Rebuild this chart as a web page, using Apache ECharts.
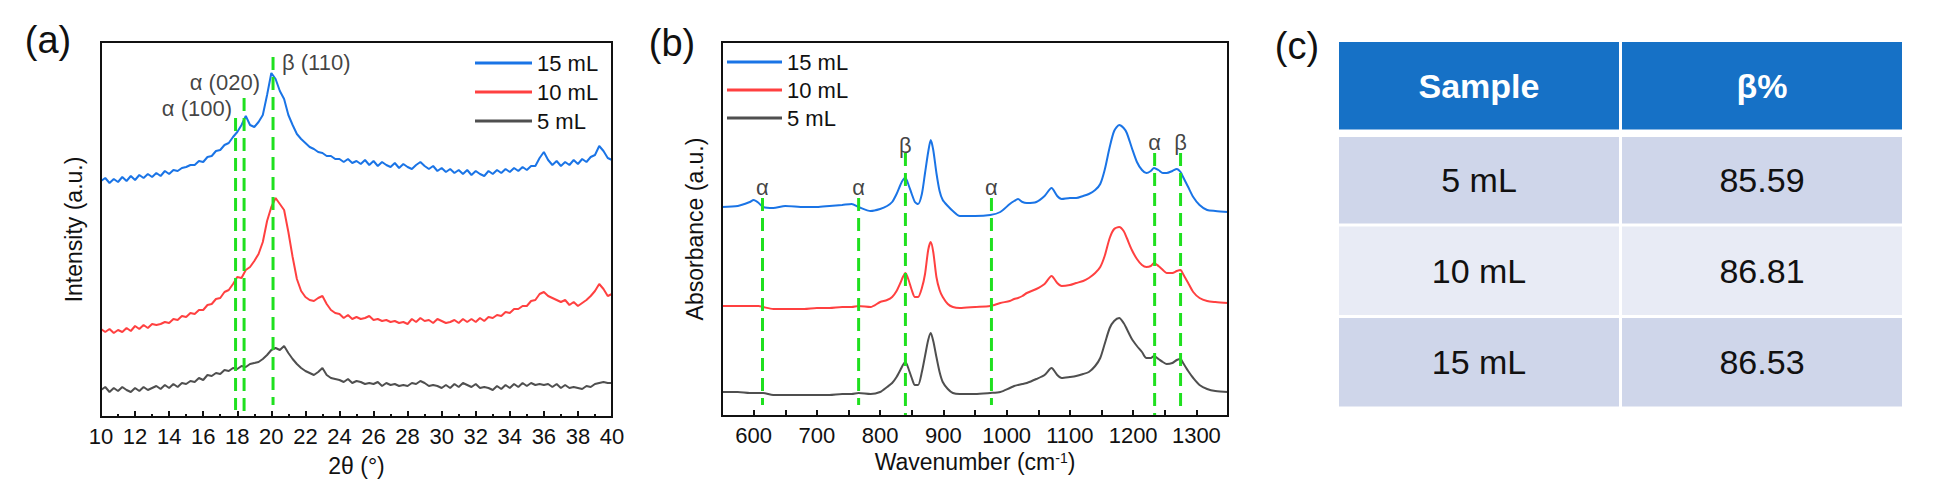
<!DOCTYPE html>
<html>
<head>
<meta charset="utf-8">
<title>XRD, FTIR and beta fraction</title>
<script src="https://cdn.jsdelivr.net/npm/echarts@6.0.0/dist/echarts.min.js"></script>
<style>
  html, body { margin: 0; padding: 0; background: #fff; }
  #chart { width: 1950px; height: 498px; }
</style>
</head>
<body>
<div id="chart"></div>
<script>
// ---- (a) XRD patterns, intensity in arbitrary units ----
const xrdTheta = [
  10, 10.25, 10.5, 10.75, 11, 11.25, 11.5, 11.75, 12, 12.25, 12.5, 12.75,
  13, 13.25, 13.5, 13.75, 14, 14.25, 14.5, 14.75, 15, 15.25, 15.5, 15.75,
  16, 16.25, 16.5, 16.75, 17, 17.25, 17.5, 17.75, 18, 18.25, 18.5, 18.75,
  19, 19.25, 19.5, 19.75, 20, 20.25, 20.5, 20.75, 21, 21.25, 21.5, 21.75,
  22, 22.25, 22.5, 22.75, 23, 23.25, 23.5, 23.75, 24, 24.25, 24.5, 24.75,
  25, 25.25, 25.5, 25.75, 26, 26.25, 26.5, 26.75, 27, 27.25, 27.5, 27.75,
  28, 28.25, 28.5, 28.75, 29, 29.25, 29.5, 29.75, 30, 30.25, 30.5, 30.75,
  31, 31.25, 31.5, 31.75, 32, 32.25, 32.5, 32.75, 33, 33.25, 33.5, 33.75,
  34, 34.25, 34.5, 34.75, 35, 35.25, 35.5, 35.75, 36, 36.25, 36.5, 36.75,
  37, 37.25, 37.5, 37.75, 38, 38.25, 38.5, 38.75, 39, 39.25, 39.5, 39.75,
  40
];
const xrd15 = [
  236, 239, 234, 238, 235, 240, 236, 241, 237, 242, 239, 243,
  240, 244, 241, 246, 243, 247, 246, 249, 250, 252, 252, 256,
  255, 260, 261, 266, 267, 272, 274, 280, 285, 292, 301, 292,
  290, 295, 302, 322, 344, 338, 326, 318, 302, 292, 283, 278,
  274, 270, 268, 265, 264, 261, 261, 258, 258, 255, 258, 254,
  256, 253, 257, 252, 256, 251, 255, 252, 250, 254, 249, 253,
  250, 248, 252, 255, 251, 248, 251, 246, 249, 245, 248, 244,
  247, 243, 247, 242, 246, 243, 241, 246, 243, 247, 244, 248,
  245, 249, 246, 250, 247, 251, 251, 259, 265, 257, 252, 256,
  251, 255, 252, 257, 253, 258, 255, 260, 262, 271, 266, 259,
  257
];
const xrd10 = [
  88, 85, 88, 84, 87, 85, 89, 86, 91, 88, 92, 89,
  93, 92, 93, 95, 94, 98, 97, 101, 100, 104, 103, 107,
  107, 112, 113, 118, 119, 125, 127, 133, 140, 139, 147, 150,
  156, 163, 175, 196, 210, 219, 213, 207, 185, 160, 138, 126,
  120, 117, 116, 119, 121, 113, 107, 104, 103, 99, 102, 98,
  100, 98, 99, 101, 97, 98, 96, 97, 95, 96, 94, 95,
  93, 98, 95, 99, 96, 97, 94, 98, 96, 94, 95, 97,
  94, 98, 95, 98, 95, 99, 96, 100, 99, 102, 101, 105,
  104, 108, 108, 111, 111, 116, 117, 123, 125, 121, 119, 117,
  115, 117, 112, 115, 111, 114, 117, 121, 126, 133, 128, 121,
  123
];
const xrd5 = [
  27, 30, 25, 29, 26, 30, 27, 25, 29, 26, 30, 27,
  29, 31, 28, 32, 29, 33, 30, 34, 33, 36, 35, 39,
  37, 42, 41, 44, 43, 47, 46, 49, 48, 51, 50, 53,
  54, 55, 58, 62, 67, 69, 67, 71, 64, 58, 53, 49,
  46, 44, 42, 45, 49, 42, 39, 38, 37, 35, 38, 34,
  36, 35, 33, 34, 33, 35, 31, 34, 32, 33, 31, 32,
  31, 34, 33, 36, 34, 31, 32, 31, 29, 32, 29, 33,
  30, 34, 32, 30, 33, 29, 30, 29, 27, 31, 28, 32,
  29, 33, 30, 34, 31, 34, 32, 33, 32, 33, 30, 33,
  29, 32, 29, 30, 29, 28, 31, 30, 33, 34, 35, 34,
  34
];
// reflection markers: position, dashed line top / bottom (same units as intensity)
const xrdPeakNames = ['α (100)', 'α (020)', 'β (110)'];
const xrdPeakPos = [17.9, 18.4, 20.1];
const xrdPeakTop = [299, 319, 360];
const xrdPeakBottom = [7, 0, 12];
// where each reflection label sits
const xrdNoteX = [17.81, 19.45, 20.51];
const xrdNoteY = [309, 335, 355];

// ---- (b) FTIR spectra, absorbance in arbitrary units ----
const ftirWave = [
  550, 575, 594, 600, 608, 615, 631, 650, 680, 700,
  720, 740, 755, 766, 785, 800, 811, 819, 826, 832,
  836, 840, 845, 850, 855, 860, 866, 871, 876, 880,
  884, 889, 894, 899, 907, 915, 926, 950, 974, 990,
  1005, 1012, 1018, 1025, 1032, 1047, 1060, 1071, 1080, 1087,
  1100, 1110, 1121, 1130, 1140, 1148, 1155, 1163, 1170, 1178,
  1185, 1190, 1198, 1206, 1214, 1221, 1228, 1233, 1240, 1247,
  1253, 1262, 1269, 1275, 1279, 1287, 1295, 1305, 1317, 1330,
  1350
];
const ftir15 = [
  209, 210, 214, 216, 213, 209, 208, 210, 209, 209,
  210, 211, 212, 209, 205, 207, 210, 214, 222, 231,
  236, 238, 231, 222, 214, 212, 222, 243, 264, 276,
  266, 243, 225, 216, 210, 205, 200, 200, 201, 204,
  212, 215, 217, 214, 213, 214, 220, 228, 220, 217,
  218, 218, 220, 222, 226, 232, 246, 269, 285, 291,
  288, 283, 268, 254, 246, 243, 245, 248, 246, 243,
  243, 245, 247, 244, 239, 229, 219, 211, 206, 205,
  204
];
const ftir10 = [
  110, 110, 110, 110, 110, 109, 107, 107, 107, 108,
  108, 109, 109, 110, 109, 114, 116, 119, 125, 133,
  139, 143, 136, 126, 119, 119, 128, 142, 166, 174,
  164, 139, 126, 119, 112, 109, 108, 109, 110, 113,
  115, 117, 118, 120, 123, 127, 132, 140, 133, 130,
  131, 133, 135, 138, 143, 149, 160, 178, 187, 189,
  185, 178, 166, 157, 151, 149, 150, 153, 150, 146,
  143, 143, 145, 146, 142, 133, 124, 118, 115, 114,
  113
];
const ftir5 = [
  24, 24, 23, 23, 23, 23, 21, 21, 21, 21,
  21, 22, 22, 23, 22, 24, 29, 33, 39, 46,
  51, 54, 47, 38, 31, 31, 44, 60, 76, 83,
  75, 59, 44, 34, 27, 23, 22, 22, 23, 24,
  28, 30, 31, 32, 33, 37, 41, 48, 41, 38,
  39, 40, 42, 44, 50, 58, 72, 88, 95, 98,
  93, 87, 77, 70, 64, 58, 58, 60, 57, 54,
  52, 53, 56, 57, 53, 45, 38, 31, 27, 25,
  24
];
const ftirBandNames = ['α', 'α', 'β', 'α', 'α', 'β'];
const ftirBandPos = [614, 766, 840, 976, 1234, 1275];
const ftirBandTop = [218, 218, 263, 218, 263, 263];
const ftirBandBottom = [11, 11, 0, 11, 1, 6];
const ftirNoteY = [229, 229, 271, 229, 274, 274];

// ---- (c) beta phase fraction table ----
const tableHeader = ['Sample', 'β%'];
const tableSamples = ['5 mL', '10 mL', '15 mL'];
const tableBeta = [85.59, 86.81, 86.53];

const sampleNames = ['15 mL', '10 mL', '5 mL'];

// ---------------------------------------------------------------
const FONT = '"Liberation Sans", Arial, Helvetica, sans-serif';
const INK = '#111';
const colors = { '15 mL': '#1a74e6', '10 mL': '#ff4040', '5 mL': '#4f4f4f' };
const GREEN = '#1fe01f';

// plot boxes (pixels)
const boxes = [
  { left: 101, top: 42, width: 511, height: 375 },
  { left: 722, top: 42, width: 506, height: 374 },
  { left: 1339, top: 42, width: 563, height: 366 }
];

const zip = (xs, ys) => xs.map((x, i) => [x, ys[i]]);

function curve(name, xs, ys, gi, smooth) {
  return {
    name: name, type: 'line', xAxisIndex: gi, yAxisIndex: gi,
    data: zip(xs, ys), showSymbol: false, symbol: 'none',
    smooth: smooth, z: 3,
    lineStyle: { color: colors[name], width: 2 },
    itemStyle: { color: colors[name] }
  };
}

function dashed(label, x, top, bottom, gi) {
  return {
    name: label + ' @' + x, type: 'line', xAxisIndex: gi, yAxisIndex: gi,
    data: [[x, top], [x, bottom]], showSymbol: false, symbol: 'none', z: 4,
    lineStyle: { color: GREEN, width: 3, type: [13, 7] }
  };
}

function notes(names, xs, ys, gi, places) {
  return {
    type: 'scatter', xAxisIndex: gi, yAxisIndex: gi, symbolSize: 0, z: 5,
    data: names.map((n, i) => ({
      value: [xs[i], ys[i]], name: n,
      label: { position: places[i], distance: 2 }
    })),
    label: {
      show: true, formatter: '{b}', color: INK,
      fontSize: 22, fontFamily: FONT
    }
  };
}

const series = [];
// (a)
series.push(curve('15 mL', xrdTheta, xrd15, 0, false));
series.push(curve('10 mL', xrdTheta, xrd10, 0, false));
series.push(curve('5 mL', xrdTheta, xrd5, 0, false));
xrdPeakPos.forEach((p, i) => series.push(dashed(xrdPeakNames[i], p, xrdPeakTop[i], xrdPeakBottom[i], 0)));
series.push(notes(xrdPeakNames, xrdNoteX, xrdNoteY, 0, ['left', 'left', 'right']));
// (b)
series.push(curve('15 mL', ftirWave, ftir15, 1, 0.25));
series.push(curve('10 mL', ftirWave, ftir10, 1, 0.25));
series.push(curve('5 mL', ftirWave, ftir5, 1, 0.25));
ftirBandPos.forEach((p, i) => series.push(dashed(ftirBandNames[i], p, ftirBandTop[i], ftirBandBottom[i], 1)));
series.push(notes(ftirBandNames, ftirBandPos, ftirNoteY, 1, ftirBandNames.map(() => 'inside')));

// (c) table cells laid out on a hidden category grid
const cellText = [];
const cellData = [];
tableHeader.forEach((h, c) => { cellData.push([c, 0]); cellText.push(h); });
tableSamples.forEach((s, r) => {
  cellData.push([0, r + 1]); cellText.push(s);
  cellData.push([1, r + 1]); cellText.push(tableBeta[r].toFixed(2));
});
const rowFill = ['#1671c6', '#cfd6ea', '#e8ebf5', '#cfd6ea'];

series.push({
  type: 'custom', xAxisIndex: 2, yAxisIndex: 2, data: cellData,
  renderItem: function (params, api) {
    const col = api.value(0), row = api.value(1);
    const c = api.coord([col, row]);
    const s = api.size([1, 1]);
    const x0 = c[0] - s[0] / 2 + (col === 0 ? 0 : 1.5);
    const x1 = c[0] + s[0] / 2 - (col === 0 ? 1.5 : 0);
    const y0 = c[1] - s[1] / 2 + (row === 0 ? 0 : row === 1 ? 3.5 : 1.5);
    const y1 = c[1] + s[1] / 2 - (row === 0 ? 4 : 1.5);
    const head = row === 0;
    return {
      type: 'group',
      children: [
        { type: 'rect', shape: { x: x0, y: y0, width: x1 - x0, height: y1 - y0 },
          style: { fill: rowFill[row] } },
        { type: 'text',
          style: {
            x: (x0 + x1) / 2, y: (y0 + y1) / 2,
            text: cellText[params.dataIndex],
            fill: head ? '#fff' : INK,
            fontSize: 34, fontWeight: head ? 'bold' : 'normal', fontFamily: FONT,
            align: 'center', verticalAlign: 'middle'
          } }
      ]
    };
  }
});

function valueAxisX(gi, min, max, interval, name, gap, fmt) {
  return {
    type: 'value', gridIndex: gi, min: min, max: max, interval: interval,
    name: name, nameLocation: 'middle', nameGap: gap,
    nameTextStyle: { fontSize: 23, color: INK, fontFamily: FONT,
      rich: { sup: { fontSize: 14, color: INK, fontFamily: FONT, verticalAlign: 'top', lineHeight: 23 } } },
    axisLine: { show: true, onZero: false, lineStyle: { color: INK, width: 2 } },
    axisTick: { show: true, inside: true, length: 6, lineStyle: { color: INK, width: 2 } },
    minorTick: { show: fmt === undefined, splitNumber: 2, length: 3, lineStyle: { color: INK, width: 2 } },
    splitLine: { show: false },
    axisLabel: { fontSize: 22, color: INK, fontFamily: FONT, margin: 8, formatter: fmt }
  };
}

function valueAxisY(gi, max, name, gap) {
  return {
    type: 'value', gridIndex: gi, min: 0, max: max,
    name: name, nameLocation: 'middle', nameGap: gap,
    nameTextStyle: { fontSize: 23, color: INK, fontFamily: FONT },
    axisLine: { show: true, onZero: false, lineStyle: { color: INK, width: 2 } },
    axisTick: { show: false }, axisLabel: { show: false }, splitLine: { show: false }
  };
}

// outline of the two plot boxes
function frame(b) {
  return {
    type: 'rect', z: 100, silent: true,
    shape: { x: b.left, y: b.top, width: b.width, height: b.height },
    style: { fill: 'none', stroke: INK, lineWidth: 2 }
  };
}

function panelLabel(text, x, y) {
  return {
    type: 'text', x: x, y: y, z: 100,
    style: { text: text, fill: INK, fontSize: 38, fontFamily: FONT,
      align: 'center', verticalAlign: 'middle' }
  };
}

const legendBase = {
  orient: 'vertical', icon: 'rect', itemHeight: 3, selectedMode: false,
  data: sampleNames,
  textStyle: { fontSize: 22, color: INK, fontFamily: FONT }
};

const chart = echarts.init(document.getElementById('chart'), null, { renderer: 'svg' });
chart.setOption({
  animation: false,
  backgroundColor: '#fff',
  textStyle: { fontFamily: FONT },
  grid: boxes,
  xAxis: [
    valueAxisX(0, 10, 40, 2, '2θ (°)', 37),
    valueAxisX(1, 550, 1350, 50, 'Wavenumber (cm{sup|-1})', 34,
      v => (v % 100 === 0 ? String(v) : '')),
    { type: 'category', gridIndex: 2, data: tableHeader, show: false }
  ],
  yAxis: [
    valueAxisY(0, 375, 'Intensity (a.u.)', 16),
    valueAxisY(1, 374, 'Absorbance (a.u.)', 16),
    { type: 'category', gridIndex: 2, inverse: true, data: ['head'].concat(tableSamples), show: false }
  ],
  legend: [
    Object.assign({}, legendBase, { left: 470, top: 47, itemWidth: 57, itemGap: 7 }),
    Object.assign({}, legendBase, { left: 722, top: 46, itemWidth: 55, itemGap: 6 })
  ],
  graphic: [
    frame(boxes[0]),
    frame(boxes[1]),
    panelLabel('(a)', 48, 40),
    panelLabel('(b)', 672, 43),
    panelLabel('(c)', 1297, 46)
  ],
  series: series
});
</script>
</body>
</html>
